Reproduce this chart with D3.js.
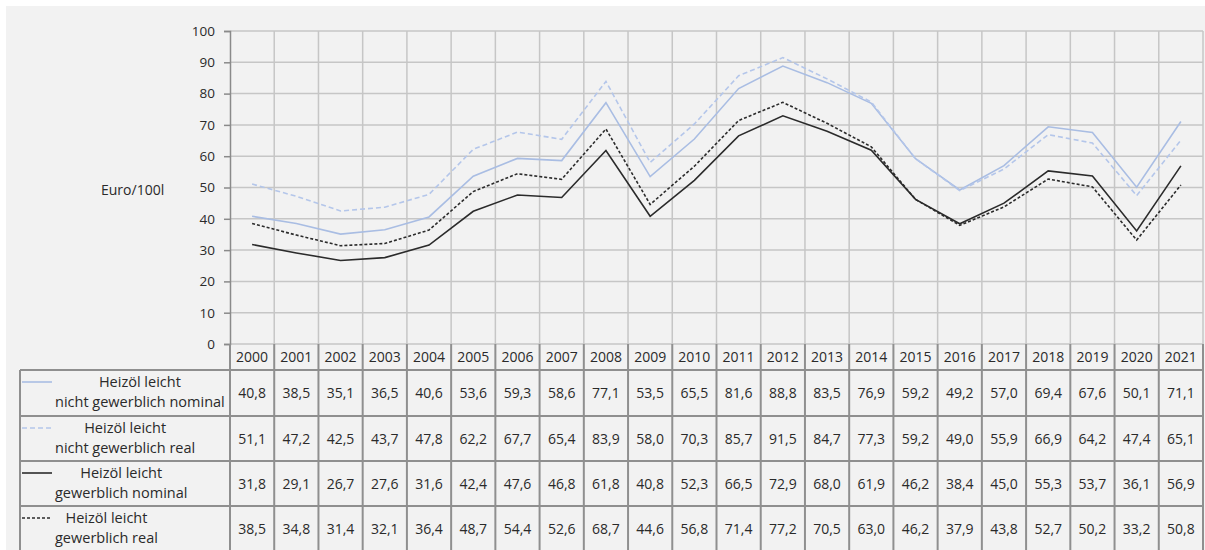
<!DOCTYPE html>
<html>
<head>
<meta charset="utf-8">
<script src="https://cdn.jsdelivr.net/npm/d3@7"></script>
<style>
  body { margin: 0; background: #fff; }
  text { font-family: "Open Sans", "Noto Sans", sans-serif; fill: #2a2a2a; }
</style>
</head>
<body>
<div id="chart"></div>
<script>
// Data
var years = ["2000","2001","2002","2003","2004","2005","2006","2007","2008","2009","2010",
             "2011","2012","2013","2014","2015","2016","2017","2018","2019","2020","2021"];

var nichtGewNominal = [40.8,38.5,35.1,36.5,40.6,53.6,59.3,58.6,77.1,53.5,65.5,81.6,88.8,83.5,76.9,59.2,49.2,57.0,69.4,67.6,50.1,71.1];
var nichtGewReal    = [51.1,47.2,42.5,43.7,47.8,62.2,67.7,65.4,83.9,58.0,70.3,85.7,91.5,84.7,77.3,59.2,49.0,55.9,66.9,64.2,47.4,65.1];
var gewNominal      = [31.8,29.1,26.7,27.6,31.6,42.4,47.6,46.8,61.8,40.8,52.3,66.5,72.9,68.0,61.9,46.2,38.4,45.0,55.3,53.7,36.1,56.9];
var gewReal         = [38.5,34.8,31.4,32.1,36.4,48.7,54.4,52.6,68.7,44.6,56.8,71.4,77.2,70.5,63.0,46.2,37.9,43.8,52.7,50.2,33.2,50.8];

var seriesLabels = [
  ["Heizöl leicht", "nicht gewerblich nominal"],
  ["Heizöl leicht", "nicht gewerblich real"],
  ["Heizöl leicht", "gewerblich nominal"],
  ["Heizöl leicht", "gewerblich real"]
];
var yTicks = [0,10,20,30,40,50,60,70,80,90,100];

var series = [
  { label: seriesLabels[0], values: nichtGewNominal, color: "#a9bde3", dash: null },
  { label: seriesLabels[1], values: nichtGewReal,    color: "#b4c6ea", dash: "5,3" },
  { label: seriesLabels[2], values: gewNominal,      color: "#2b2b2b", dash: null },
  { label: seriesLabels[3], values: gewReal,         color: "#2b2b2b", dash: "3,2" }
];

var W = 1205, H = 550;
var svg = d3.select("#chart").append("svg").attr("width", W).attr("height", H);

// Gray panel
svg.append("rect").attr("x", 6).attr("y", 6).attr("width", W - 6).attr("height", H - 6)
    .attr("fill", "#f2f2f2");

var x = d3.scaleBand().domain(years).range([230, 1203]).padding(0);
var y = d3.scaleLinear().domain([0, 100]).range([344, 31]);

// Row boundaries of the table
var rowTop = [370, 416, 461, 506, 552];
var headerTop = 344;

// Horizontal grid
svg.append("g").selectAll("line").data(yTicks).join("line")
    .attr("x1", 230).attr("x2", 1203)
    .attr("y1", d => y(d)).attr("y2", d => y(d))
    .attr("stroke", "#c6c6c6").attr("stroke-width", 1.5);

// Vertical grid in plot
var bounds = years.map(d => x(d)).concat([x.range()[1]]);
svg.append("g").selectAll("line").data(bounds.slice(1)).join("line")
    .attr("x1", d => d).attr("x2", d => d)
    .attr("y1", y(100)).attr("y2", y(0))
    .attr("stroke", "#c6c6c6").attr("stroke-width", 1.5);

// Y axis
var yAxis = d3.axisLeft(y).tickValues(yTicks).tickSize(6).tickPadding(9);
var ga = svg.append("g").attr("transform", "translate(230,0)").call(yAxis);
ga.select(".domain").attr("stroke", "#8a8a8a").attr("stroke-width", 1.5);
ga.selectAll(".tick line").attr("stroke", "#8a8a8a").attr("stroke-width", 1.5);
ga.selectAll(".tick text").style("font-size", "13.5px").style("font-family", "'Open Sans', sans-serif")
    .attr("fill", "#2a2a2a");

svg.append("text").attr("x", 101).attr("y", 195).style("font-size", "14px").text("Euro/100l");

// Lines
var line = d3.line().x((d, i) => x(years[i]) + x.bandwidth() / 2).y(d => y(d));
svg.append("g").selectAll("path").data(series).join("path")
    .attr("d", d => line(d.values))
    .attr("fill", "none")
    .attr("stroke", d => d.color)
    .attr("stroke-width", 1.6)
    .attr("stroke-dasharray", d => d.dash);

// Table
var tbl = svg.append("g");
var lineColor = "#8f8f8f";

// header row
tbl.selectAll("text.yr").data(years).join("text").attr("class", "yr")
    .attr("x", d => x(d) + x.bandwidth() / 2).attr("y", (headerTop + rowTop[0]) / 2 + 5)
    .attr("text-anchor", "middle").style("font-size", "14px").text(d => d);

// horizontal table lines
tbl.selectAll("line.h").data(rowTop).join("line").attr("class", "h")
    .attr("x1", 20).attr("x2", 1203)
    .attr("y1", d => d).attr("y2", d => d)
    .attr("stroke", lineColor).attr("stroke-width", 2);

// vertical table lines
tbl.selectAll("line.v").data(bounds).join("line").attr("class", "v")
    .attr("x1", d => d).attr("x2", d => d)
    .attr("y1", headerTop).attr("y2", H)
    .attr("stroke", lineColor).attr("stroke-width", 2);
tbl.append("line").attr("x1", 20).attr("x2", 20).attr("y1", rowTop[0]).attr("y2", H)
    .attr("stroke", lineColor).attr("stroke-width", 2);

// data rows
series.forEach(function(s, r) {
  var top = rowTop[r], bot = rowTop[r + 1];
  var g = tbl.append("g");
  g.selectAll("text").data(s.values).join("text")
      .attr("x", (d, i) => x(years[i]) + x.bandwidth() / 2)
      .attr("y", (top + bot) / 2 + 5)
      .attr("text-anchor", "middle").style("font-size", "14px")
      .text(d => d3.format(".1f")(d).replace(".", ","));

  // legend sample
  g.append("line").attr("x1", 22).attr("x2", 52)
      .attr("y1", top + 12).attr("y2", top + 12)
      .attr("stroke", s.color).attr("stroke-width", 1.6)
      .attr("stroke-dasharray", s.dash);

  var l2 = g.append("text").attr("x", 55).attr("y", top + 37)
      .style("font-size", "14.5px").text(s.label[1]);
  var cx = 55 + l2.node().getComputedTextLength() / 2;
  g.append("text").attr("x", cx).attr("y", top + 17)
      .attr("text-anchor", "middle").style("font-size", "14.5px").text(s.label[0]);
});
</script>
</body>
</html>
